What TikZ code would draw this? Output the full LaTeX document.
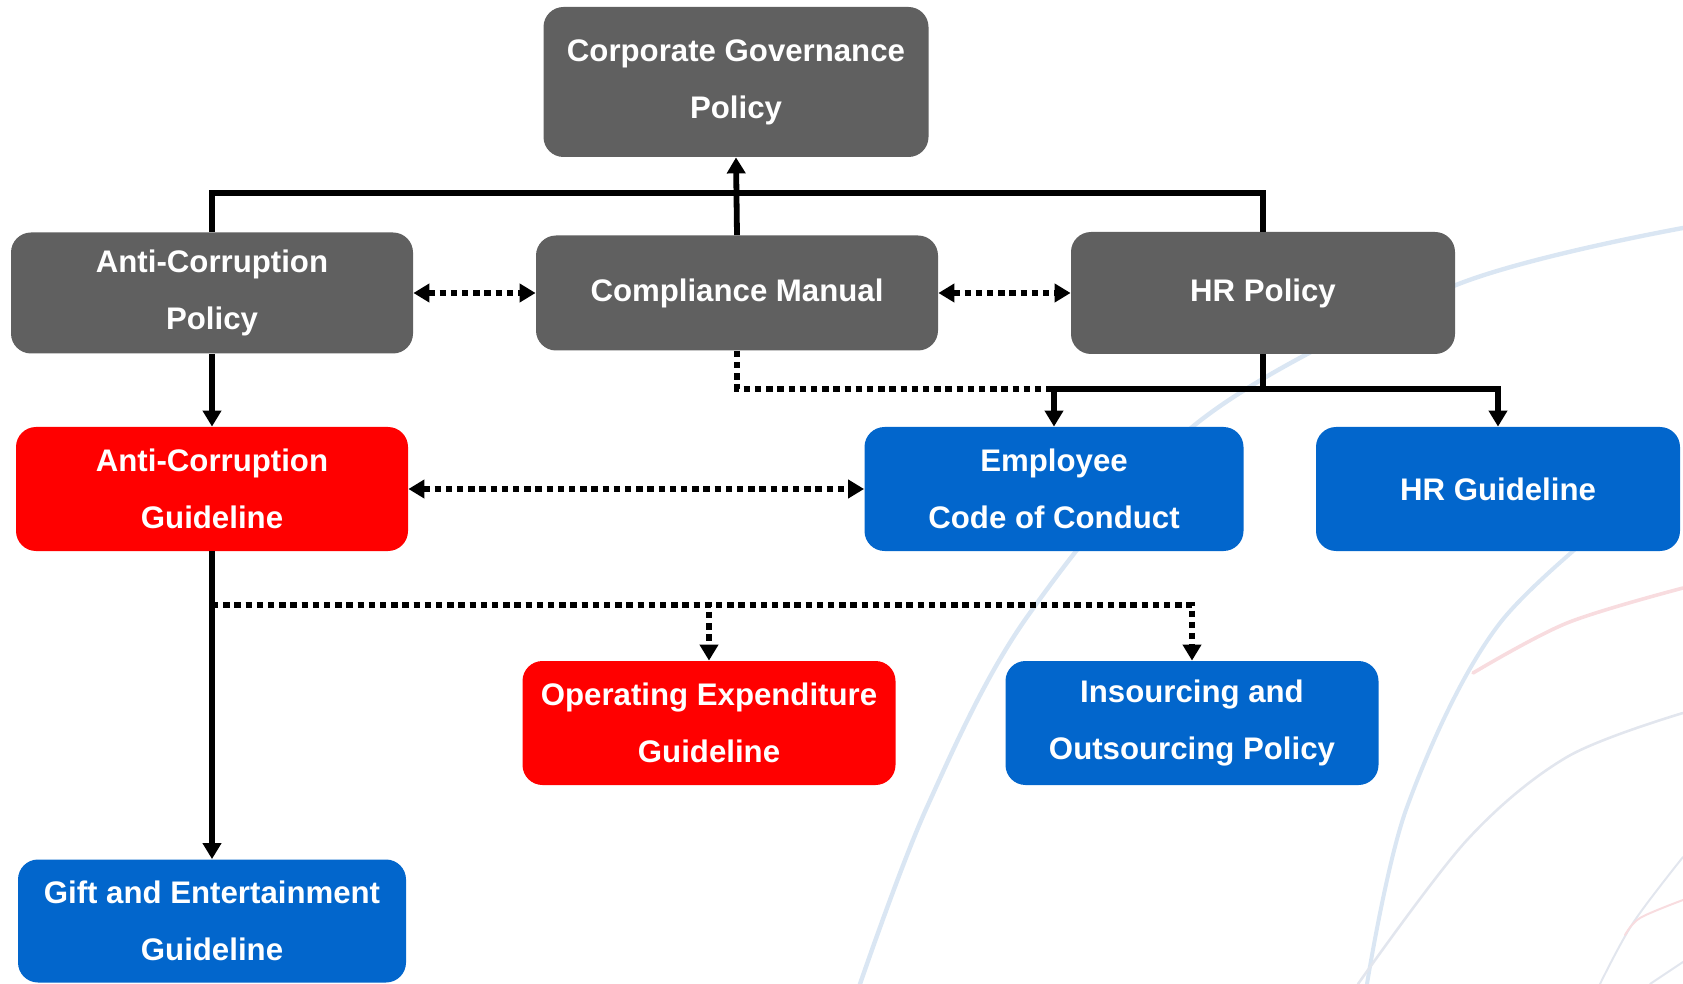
\documentclass[tikz,border=0pt]{standalone}
\usepackage{fontspec}
\setmainfont{Liberation Sans}
\usetikzlibrary{arrows.meta}

\definecolor{boxgrey}{RGB}{96,96,96}
\definecolor{boxred}{RGB}{255,0,0}
\definecolor{boxblue}{RGB}{2,102,204}
\definecolor{swblue}{RGB}{218,230,243}
\definecolor{swred}{RGB}{248,220,223}
\definecolor{swgrey}{RGB}{226,230,238}

\begin{document}
\begin{tikzpicture}[x=0.5pt,y=-0.5pt,>={Triangle[length=8pt,width=9pt]},
box/.style={rounded corners=10pt, inner sep=0pt, text=white, align=center,
  font=\fontsize{15.6}{28.5}\selectfont\bfseries},
greybox/.style={box, fill=boxgrey},
redbox/.style={box, fill=boxred},
bluebox/.style={box, fill=boxblue},
link/.style={line width=2.9pt},
dotlink/.style={line width=2.9pt, dash pattern=on 3.2pt off 2.4pt},
swoosh/.style={line width=1pt, line cap=round},
]

\useasboundingbox (0,0) rectangle (1683,984);

%\draw[help lines,yellow,thin] (0,0) grid[step=100] (1683,984);

% faint swooshes in the background
\draw[swoosh,swblue,line width=2.2pt] plot[smooth,tension=0.55] coordinates {(1683,228) (1456,285) (1201,420) (1027,617) (927,807) (860,984)};
\draw[swoosh,swblue,line width=2pt] plot[smooth,tension=0.55] coordinates {(1660,480) (1500,623) (1407,807) (1367,984)};
\draw[swoosh,swred,line width=1.8pt] plot[smooth,tension=0.55] coordinates {(1683,588) (1567,623) (1473,673)};
\draw[swoosh,swgrey,line width=1.3pt] plot[smooth,tension=0.55] coordinates {(1683,713) (1567,757) (1467,840) (1358,984)};
\draw[swoosh,swgrey] plot[smooth,tension=0.55] coordinates {(1683,857) (1633,923) (1600,984)};
\draw[swoosh,swred] plot[smooth,tension=0.55] coordinates {(1683,900) (1640,918) (1625,935)};
\draw[swoosh,swgrey] plot[smooth,tension=0.55] coordinates {(1683,962) (1650,984)};

\node [greybox, minimum width=192.5pt, minimum height=75pt] (cgp) at (736,82) {Corporate Governance\\Policy};
\node [greybox, minimum width=201pt, minimum height=60.5pt] (acp) at (212,293) {Anti-Corruption\\Policy};
\node [greybox, minimum width=201pt, minimum height=57.5pt] (cm) at (737,293) {Compliance Manual};
\node [greybox, minimum width=192pt, minimum height=61pt] (hrp) at (1263,293) {HR Policy};

\node [redbox, minimum width=196pt, minimum height=62pt] (acg) at (212,489) {Anti-Corruption\\Guideline};
\node [bluebox, minimum width=189.5pt, minimum height=62pt] (ecc) at (1054,489) {Employee\\Code of Conduct};
\node [bluebox, minimum width=182pt, minimum height=62pt] (hrg) at (1498,489) {HR Guideline};

\node [redbox, minimum width=186.5pt, minimum height=62pt] (oeg) at (709,723) {Operating Expenditure\\Guideline};
\node [bluebox, minimum width=186.5pt, minimum height=62pt] (iop) at (1192,723) {Insourcing and\\Outsourcing Policy};
\node [bluebox, minimum width=194pt, minimum height=61.5pt] (geg) at (212,921) {Gift and Entertainment\\Guideline};

\coordinate (topbus) at (736,193);
\coordinate (hrbus) at (1263,389);
\coordinate (gbus) at (212,605);

\draw[link] (acp.north) |- (topbus) -| (hrp.north);
\draw[link,->] (cm.north) -- (cgp.south);

\draw[dotlink,<->] (acp.east) -- (cm.west);
\draw[dotlink,<->] (cm.east) -- (hrp.west);

\draw[dotlink] (cm.south) |- (ecc.north |- hrbus);
\draw[link] (hrp.south) -- (hrbus);
\draw[link,->] (hrbus) -| (ecc.north);
\draw[link,->] (hrbus) -| (hrg.north);

\draw[link,->] (acp.south) -- (acg.north);
\draw[dotlink,<->] (acg.east) -- (ecc.west);

\draw[link,->] (acg.south) -- (geg.north);
\draw[dotlink,->] (gbus) -| (oeg.north);
\draw[dotlink,->] (gbus) -| (iop.north);
\end{tikzpicture}
\end{document}
